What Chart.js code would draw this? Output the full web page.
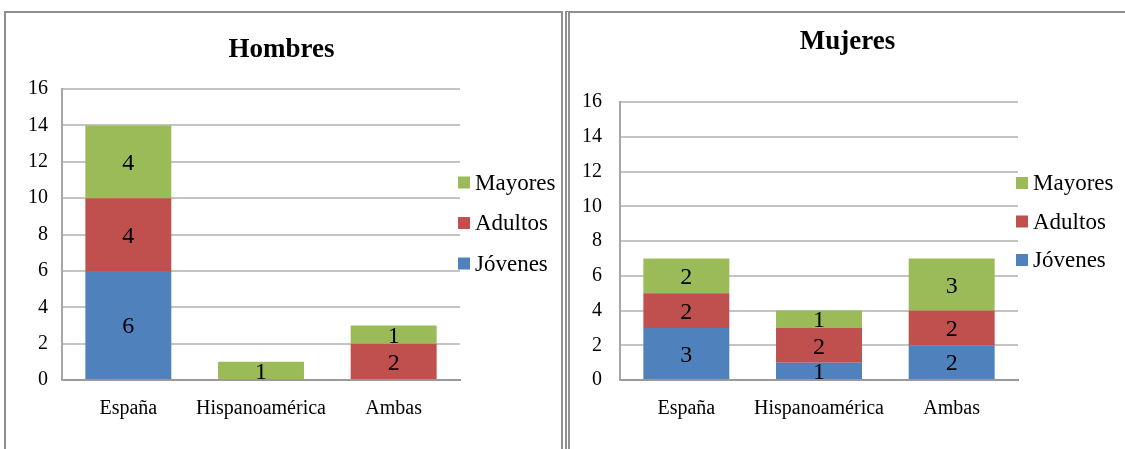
<!DOCTYPE html>
<html>
<head>
<meta charset="utf-8">
<script src="https://cdn.jsdelivr.net/npm/chart.js@4.4.0/dist/chart.umd.min.js"></script>
<style>
  html, body { margin: 0; padding: 0; background: #fff; }
  body { width: 1125px; height: 449px; position: relative; overflow: hidden; }
  .panel { position: absolute; box-sizing: border-box; }
  #marcoH { left: 4px; top: 11px; width: 559px; height: 460px; border: 2px solid #8f8f8f; border-bottom: none; }
  #marcoM { left: 565px; top: 11px; width: 600px; height: 460px; border-top: 2px solid #8f8f8f; border-left: 5px double #8f8f8f; }
  canvas { position: absolute; top: 0; }
  #cHombres { left: 0; }
  #cMujeres { left: 570px; }
</style>
</head>
<body>
<div class="panel" id="marcoH"></div>
<div class="panel" id="marcoM"></div>
<canvas id="cHombres" width="563" height="449"></canvas>
<canvas id="cMujeres" width="555" height="449"></canvas>
<script>
// categorias y series
const categorias = ['España', 'Hispanoamérica', 'Ambas'];
const series = ['Jóvenes', 'Adultos', 'Mayores'];
const colores = ['#4f81bd', '#c0504d', '#9bbb59'];

const hombresJovenes = [6, 0, 0];
const hombresAdultos = [4, 0, 2];
const hombresMayores = [4, 1, 1];

const mujeresJovenes = [3, 1, 2];
const mujeresAdultos = [2, 2, 2];
const mujeresMayores = [2, 1, 3];

const ticksY = [0, 2, 4, 6, 8, 10, 12, 14, 16];

const serif = 'Liberation Serif';

// etiquetas dentro de cada segmento
const etiquetas = {
  id: 'etiquetas',
  afterDatasetsDraw(chart) {
    const ctx = chart.ctx;
    ctx.save();
    ctx.font = '24px "' + serif + '"';
    ctx.fillStyle = '#000';
    ctx.textAlign = 'center';
    ctx.textBaseline = 'middle';
    chart.data.datasets.forEach((ds, i) => {
      chart.getDatasetMeta(i).data.forEach((bar, j) => {
        const v = ds.data[j];
        if (!v) return;
        const p = bar.getProps(['x', 'y', 'base'], true);
        ctx.fillText(String(v), p.x, (p.y + p.base) / 2 + 2);
      });
    });
    ctx.restore();
  }
};

// leyenda a la derecha, orden inverso
const leyenda = {
  id: 'leyenda',
  afterDraw(chart, args, opts) {
    const ctx = chart.ctx;
    const area = chart.chartArea;
    const n = chart.data.datasets.length;
    ctx.save();
    ctx.font = '23px "' + serif + '"';
    ctx.textBaseline = 'middle';
    ctx.textAlign = 'left';
    for (let k = 0; k < n; k++) {
      const ds = chart.data.datasets[n - 1 - k];
      const y = opts.y + (k - (n - 1) / 2) * opts.gap;
      const x = area.right - 2;
      ctx.fillStyle = ds.backgroundColor;
      ctx.fillRect(x, y - 6, 12, 12);
      ctx.fillStyle = '#000';
      ctx.fillText(ds.label, x + 17, y + 1);
    }
    ctx.restore();
  }
};

function crearGrafico(id, titulo, valores, cfg) {
  const datasets = series.map((s, i) => ({
    label: s,
    data: valores[i],
    backgroundColor: colores[i],
    borderWidth: 0
  }));
  return new Chart(document.getElementById(id), {
    type: 'bar',
    data: { labels: categorias, datasets: datasets },
    plugins: [etiquetas, leyenda],
    options: {
      responsive: false,
      animation: false,
      layout: { padding: 0 },
      datasets: { bar: { barPercentage: 0.648, categoryPercentage: 1 } },
      plugins: {
        legend: { display: false },
        tooltip: { enabled: false },
        title: {
          display: true,
          text: titulo,
          color: '#000',
          font: { family: serif, size: 27, weight: 'bold' },
          padding: { top: cfg.tituloArriba, bottom: cfg.tituloAbajo }
        },
        leyenda: { y: cfg.leyendaY, gap: cfg.leyendaGap }
      },
      scales: {
        x: {
          stacked: true,
          grid: { display: false, drawTicks: false },
          border: { display: true, color: '#9a9a9a', width: 2 },
          ticks: {
            color: '#000', padding: 17, maxRotation: 0, minRotation: 0, autoSkip: false,
            font: { family: serif, size: 20 }
          },
          afterFit(s) { s.height = 449 - 380; }
        },
        y: {
          stacked: true,
          min: 0,
          max: 16,
          afterBuildTicks(s) { s.ticks = ticksY.map(v => ({ value: v })); },
          grid: { color: '#c4c4c4', lineWidth: 2, drawTicks: false },
          border: { display: true, color: '#a6a6a6', width: 2 },
          ticks: { color: '#000', padding: cfg.tickPad, font: { family: serif, size: 20 } },
          afterFit(s) { s.width = cfg.ejeY; }
        },
        // espacio reservado para la leyenda
        hueco: {
          type: 'linear',
          position: 'right',
          display: true,
          grid: { display: false, drawTicks: false },
          border: { display: false },
          ticks: { display: false },
          afterFit(s) { s.width = cfg.derecha; }
        }
      }
    }
  });
}

crearGrafico('cHombres', 'Hombres', [hombresJovenes, hombresAdultos, hombresMayores], {
  derecha: 103, tituloArriba: 34, tituloAbajo: 22.6, ejeY: 62, tickPad: 14, leyendaY: 223, leyendaGap: 40.5
});

crearGrafico('cMujeres', 'Mujeres', [mujeresJovenes, mujeresAdultos, mujeresMayores], {
  derecha: 107, tituloArriba: 26, tituloAbajo: 43.6, ejeY: 50, tickPad: 18, leyendaY: 221.5, leyendaGap: 38.5
});
</script>
</body>
</html>
